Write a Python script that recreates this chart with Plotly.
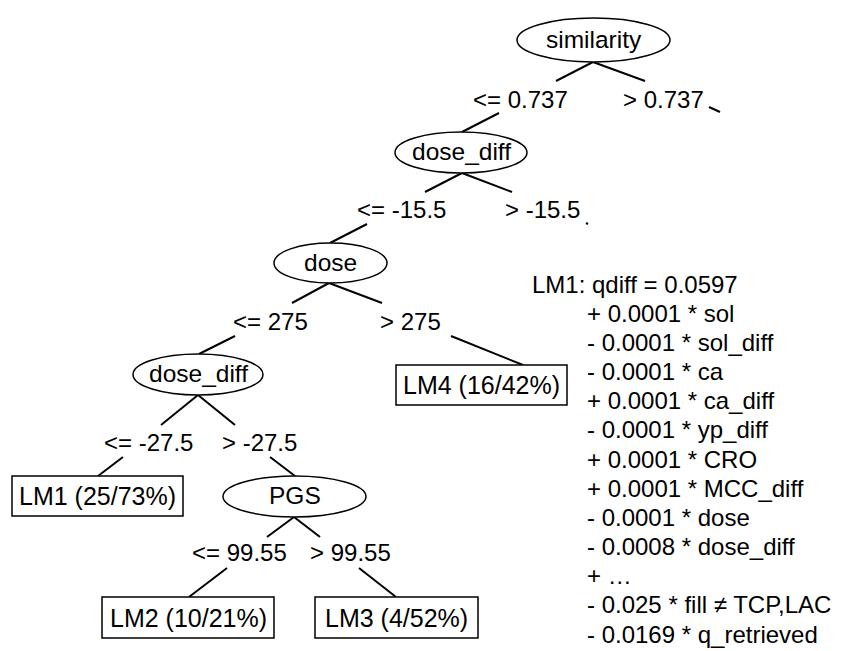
import plotly.graph_objects as go

# ---- content (text) ----
node_labels = ["similarity", "dose_diff", "dose", "dose_diff", "PGS"]
split_labels = ["<= 0.737", "> 0.737", "<= -15.5", "> -15.5", "<= 275", "> 275",
                "<= -27.5", "> -27.5", "<= 99.55", "> 99.55"]
leaf_labels = ["LM1 (25/73%)", "LM2 (10/21%)", "LM3 (4/52%)", "LM4 (16/42%)"]
equation_lines = [
    "LM1: qdiff = 0.0597",
    "+ 0.0001 * sol",
    "- 0.0001 * sol_diff",
    "- 0.0001 * ca",
    "+ 0.0001 * ca_diff",
    "- 0.0001 * yp_diff",
    "+ 0.0001 * CRO",
    "+ 0.0001 * MCC_diff",
    "- 0.0001 * dose",
    "- 0.0008 * dose_diff",
    "+ \u2026",
    "- 0.025 * fill \u2260 TCP,LAC",
    "- 0.0169 * q_retrieved",
]

# ---- layout (pixel geometry) ----
W, H = 851, 651
node_boxes = [(517, 670, 18, 62), (395, 527, 132, 173), (274, 387, 243, 283),
              (133, 263, 354, 395), (223, 366, 476, 517)]
split_pos = [(520, 99), (663, 99), (401, 209), (542, 209), (270, 321), (410, 321),
             (148, 442), (259, 442), (239, 552), (350, 552)]
leaf_boxes = [(12, 183, 476, 516), (102, 274, 597, 638), (315, 478, 597, 638),
              (396, 567, 365, 405)]
edges = [
    ((593, 62), (556, 81)), ((593, 62), (645, 81)),
    ((499, 113), (462, 132)), ((709, 107), (720, 112)),
    ((462, 173), (425, 192)), ((462, 173), (512, 192)),
    ((367, 224), (330, 243)), ((586, 223), (588, 224)),
    ((329, 283), (292, 303)), ((329, 283), (382, 303)),
    ((235, 336), (199, 354)), ((451, 336), (523, 365)),
    ((198, 395), (161, 425)), ((198, 395), (235, 425)),
    ((123, 457), (98, 476)), ((270, 457), (295, 476)),
    ((294, 517), (267, 537)), ((294, 517), (320, 537)),
    ((227, 568), (189, 597)), ((359, 568), (396, 597)),
]
eq_x0, eq_x1, eq_y0, eq_dy = 530, 585, 284, 29.17

FAMILY = "Liberation Sans, Arial, sans-serif"
FONT = dict(family=FAMILY, size=24, color="black")
NODE_FONT = dict(family=FAMILY, size=24.5, color="black")
LEAF_FONT = dict(family=FAMILY, size=25, color="black")

fig = go.Figure()
fig.add_trace(go.Scatter(x=[0, W], y=[0, H], mode="markers",
                         marker=dict(opacity=0), hoverinfo="skip", showlegend=False))

shapes = []
for (a, b) in edges:
    shapes.append(dict(type="line", xref="x", yref="y", x0=a[0], y0=a[1], x1=b[0], y1=b[1],
                       line=dict(color="black", width=2)))
for (x0, x1, y0, y1) in node_boxes:
    shapes.append(dict(type="circle", xref="x", yref="y", x0=x0, x1=x1, y0=y0, y1=y1,
                       line=dict(color="black", width=1.5), fillcolor="white"))
for (x0, x1, y0, y1) in leaf_boxes:
    shapes.append(dict(type="rect", xref="x", yref="y", x0=x0, x1=x1, y0=y0, y1=y1,
                       line=dict(color="black", width=1.5), fillcolor="white"))

annotations = []
def add(x, y, text, font=FONT, xanchor="center"):
    annotations.append(dict(xref="x", yref="y", showarrow=False, xanchor=xanchor,
                            yanchor="middle", font=font, text=text, x=x, y=y))

for lab, (x0, x1, y0, y1) in zip(node_labels, node_boxes):
    add((x0 + x1) / 2, (y0 + y1) / 2 - 1, lab, font=NODE_FONT)
for lab, (x, y) in zip(split_labels, split_pos):
    add(x, y, lab)
for lab, (x0, x1, y0, y1) in zip(leaf_labels, leaf_boxes):
    add((x0 + x1) / 2, (y0 + y1) / 2, lab, font=LEAF_FONT)
for i, line in enumerate(equation_lines):
    add(eq_x0 if i == 0 else eq_x1, eq_y0 + i * eq_dy, line, xanchor="left")

fig.update_layout(
    width=W, height=H, margin=dict(l=0, r=0, t=0, b=0),
    paper_bgcolor="white", plot_bgcolor="white",
    xaxis=dict(range=[0, W], visible=False, fixedrange=True),
    yaxis=dict(range=[H, 0], visible=False, fixedrange=True),
    shapes=shapes, annotations=annotations, showlegend=False,
)
fig.write_html("out.html", config={"displayModeBar": False},
               post_script="document.body.style.margin='0';document.body.style.overflow='hidden';")
